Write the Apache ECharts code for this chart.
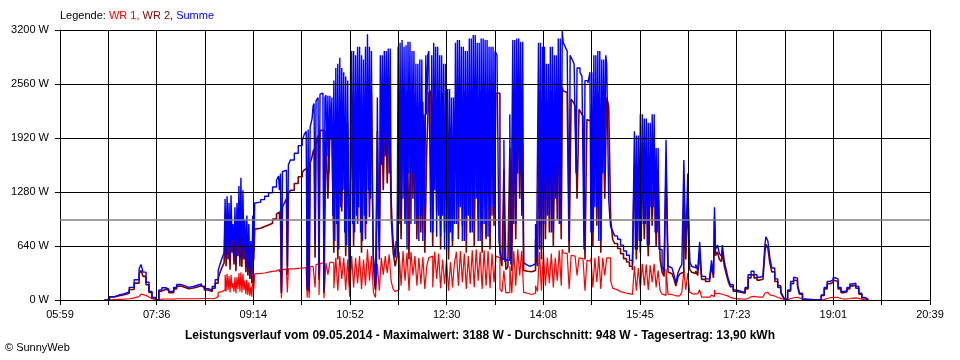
<!DOCTYPE html>
<html><head><meta charset="utf-8">
<script src="https://cdn.jsdelivr.net/npm/echarts@6/dist/echarts.min.js"></script>
<style>html,body{margin:0;padding:0;background:#fff}#c{width:960px;height:360px}</style>
</head><body><div id="c"></div>
<script>
// Zeitachse: 05:59 .. 20:39 (Minuten seit Mitternacht)
const T0 = 359, T1 = 1239;
const tickLabels = ['05:59','07:36','09:14','10:52','12:30','14:08','15:45','17:23','19:01','20:39'];
const durchschnitt = 948;

// Zeitpunkte für WR 1 und WR 2
const zeit = [
404,409,414,419,424,429,434,439,441,443,446,449,452,456,459,462,466,469,474,477,481,485,489,494,498,502,505,509,513,516,519,521,523,525,
526,527,528,529,530,531,532,533,534,535,536,537,538,539,540,541,542,543,544,545,546,547,548,549,550,551,552,553,554,555,556,
558,562,566,570,574,578,580,581,582,583,584,586,588,589,590,592,596,600,604,606,608,609,610,611,612,614,615,616,617,618,620,621,622,
624,626,628,630,632,634,636,638,640,642,
644,646,648,650,652,654,656,658,660,662,
664,666,668,670,672,674,676,678,680,682,
684,686,688,690,692,694,696,698,700,702,
704,706,708,710,712,714,716,718,720,722,
724,726,728,730,732,734,736,738,740,742,
744,746,748,750,752,754,756,758,760,762,
764,766,768,770,772,774,776,778,780,782,
784,786,788,790,792,794,796,798,800,802,
804,806,808,810,812,814,816,818,820,822,
824,826,828,830,832,834,836,838,840,842,
844,846,848,850,852,854,856,858,860,862,
864,866,867,868,870,872,874,876,878,880,
882,884,886,888,890,892,894,896,898,900,
902,904,906,908,910,912,914,916,918,920,
923,926,929,932,935,938,940,942,944,946,
948,950,952,954,956,958,960,962,964,966,
968,970,972,974,976,978,980,982,984,986,
988,990,992,994,996,998,1000,1002,1004,1006,
1008,1012,1016,1018,1020,1021,1022,1024,1026,1028,
1029,1031,1033,1035,1037,1040,1043,1046,1049,1052,
1055,1058,1061,1064,1067,1070,1072,1073,1075,1077,
1079,1082,1085,1088,1090,1092,1095,1098,1101,1103,
1105,1107,1110,1113,1126,1129,1132,1135,1138,1141,
1143,1146,1149,1152,1155,1158,1161,1164,1167,1170,
1173,1176
];

const wr2 = [
0,35,50,63,80,125,200,310,350,280,180,90,25,0,105,128,115,88,132,165,150,133,142,155,170,147,118,100,140,200,260,330,390,440,
900,400,920,480,870,360,940,560,700,420,830,340,880,520,1020,400,1030,390,990,480,720,330,760,290,690,250,540,200,750,470,840,
850,870,890,910,960,1020,1040,950,1060,80,1100,1150,1200,300,1260,1300,1380,1460,1510,1540,1560,120,1580,100,1620,1700,1760,1790,500,1850,1950,240,2010,
2010,80,2000,1200,1950,2000,560,2250,480,2350,
1050,2200,520,2100,160,2450,640,2420,900,2480,
560,2400,720,2500,980,2450,400,120,2000,480,
2450,1300,2480,1380,2480,980,560,400,520,2480,
720,2500,950,2480,480,2500,1200,2450,720,2300,
800,2350,560,1800,2450,2480,640,2480,1050,2480,
600,2450,800,2350,480,2050,640,1950,2480,720,
2500,880,2480,560,2450,800,2500,640,2500,960,
2480,560,2500,720,2500,600,2480,880,2450,2450,
560,400,1550,360,390,1800,340,2500,720,2500,
1200,2480,350,340,330,335,340,350,720,400,
2480,480,2480,720,2300,800,2480,640,2450,960,
2500,720,2520,2480,2460,2420,560,2380,2350,2300,
1200,2260,2220,2180,480,2140,2120,2200,640,2400,
880,2450,560,2350,1200,2400,2300,960,720,670,
610,550,490,450,400,355,1600,480,1560,560,
1760,720,1720,520,1680,880,1760,640,1440,480,
330,280,1520,330,315,300,250,165,270,310,
330,1300,480,1180,360,330,315,345,290,560,
245,220,238,410,262,980,525,570,480,455,
570,395,305,218,158,105,96,88,79,132,
262,298,262,236,245,260,570,660,615,440,
333,220,150,88,44,9,105,193,237,228,
158,70,9,0,0,53,132,193,210,237,
220,132,88,96,132,167,175,140,70,26,
9,0
];

const wr1 = [
0,5,8,10,15,25,40,60,70,55,35,15,5,0,10,12,12,10,15,15,15,15,15,15,18,18,18,15,20,40,90,100,110,120,
300,100,310,120,280,90,300,140,200,100,270,80,270,130,320,100,330,90,310,120,230,70,240,60,210,50,160,40,250,130,310,
315,320,330,340,345,355,360,330,360,20,360,365,365,90,368,370,375,378,382,385,388,30,390,25,395,400,410,415,150,420,430,60,435,
440,20,440,300,450,440,140,500,110,520,
250,500,120,480,40,520,150,500,200,520,
130,480,170,600,230,520,90,30,430,110,
500,300,520,320,540,220,130,100,120,570,
170,580,230,560,110,570,290,520,170,500,
190,510,130,400,500,520,150,570,250,550,
140,480,190,480,110,450,150,440,570,170,
580,210,550,130,520,190,590,150,600,230,
570,130,590,170,580,140,550,210,520,500,
130,95,350,85,90,400,80,580,170,600,
290,580,90,80,70,65,70,80,170,100,
570,110,550,170,500,200,550,150,500,230,
590,170,600,560,550,540,130,530,520,510,
290,500,490,480,110,470,460,500,150,500,
210,520,130,500,290,500,500,230,140,120,
100,90,80,75,65,60,400,110,380,130,
430,170,420,120,410,210,430,150,350,110,
70,55,370,70,65,60,50,35,50,70,
90,360,120,320,90,70,65,75,60,120,
35,30,32,60,38,120,75,80,70,65,
80,55,45,32,22,15,14,12,11,18,
38,42,38,34,35,40,80,90,85,60,
47,30,20,12,6,1,15,27,33,32,
22,10,1,0,0,7,18,27,30,33,
30,18,12,14,18,23,25,20,10,4,
1,0
];

// Zeitpunkte für Summe (im wolkigen Abschnitt minutengenau)
const zeitSumme = [
404,409,414,419,424,429,434,439,441,443,446,449,452,456,459,462,466,469,474,477,481,485,489,494,498,502,505,509,513,516,519,521,523,525,
526,527,528,529,530,531,532,533,534,535,536,537,538,539,540,541,542,543,544,545,546,547,548,549,550,551,552,553,554,555,556,
558,562,566,570,574,578,580,581,582,583,584,586,588,589,590,592,596,600,604,606,608,609,610,611,612,614,615,616,617,618,620,621,622,
624,625,626,627,628,629,630,631,632,633,
634,635,636,637,638,639,640,641,642,643,
644,645,646,647,648,649,650,651,652,653,
654,655,656,657,658,659,660,661,662,663,
664,665,666,667,668,669,670,671,672,673,
674,675,676,677,678,679,680,681,682,683,
684,685,686,687,688,689,690,691,692,693,
694,695,696,697,698,699,700,701,702,703,
704,705,706,707,708,709,710,711,712,713,
714,715,716,717,718,719,720,721,722,723,
724,725,726,727,728,729,730,731,732,733,
734,735,736,737,738,739,740,741,742,743,
744,745,746,747,748,749,750,751,752,753,
754,755,756,757,758,759,760,761,762,763,
764,765,766,767,768,769,770,771,772,773,
774,775,776,777,778,779,780,781,782,783,
784,785,786,787,788,789,790,791,792,793,
794,795,796,797,798,799,800,801,802,803,
804,805,806,807,808,809,810,811,812,813,
814,815,816,817,818,819,820,821,822,823,
824,825,826,827,828,829,830,831,832,833,
834,835,836,837,838,839,840,841,842,843,
844,845,846,847,848,849,850,851,852,853,
854,855,856,857,858,859,860,861,862,863,
864,865,866,867,868,869,870,871,872,873,
874,875,876,877,878,879,880,881,882,883,
884,885,886,887,888,889,890,891,892,893,
894,895,896,897,898,899,900,901,902,903,
904,905,906,907,908,909,910,911,912,913,
914,915,916,917,918,919,920,
923,926,929,932,935,938,
940,941,942,943,944,945,946,947,948,949,
950,951,952,953,954,955,956,957,958,959,
960,961,962,963,964,965,966,
968,970,972,974,976,978,980,982,984,986,
988,990,992,994,996,998,1000,1002,1004,1006,
1008,1012,1016,1018,1020,1021,1022,1024,1026,1028,
1029,1031,1033,1035,1037,1040,1043,1046,1049,1052,
1055,1058,1061,1064,1067,1070,1072,1073,1075,1077,
1079,1082,1085,1088,1090,1092,1095,1098,1101,1103,
1105,1107,1110,1113,1126,1129,1132,1135,1138,1141,
1143,1146,1149,1152,1155,1158,1161,1164,1167,1170,
1173,1176
];

const summe = [
0,40,60,75,95,150,240,370,420,330,210,100,30,0,120,145,130,100,150,185,170,150,160,175,190,165,135,115,160,240,350,430,500,560,
1200,500,1230,600,1150,450,1240,700,900,520,1100,420,1150,650,1350,500,1450,480,1300,600,950,400,1000,350,900,300,700,240,1000,600,1150,
1160,1190,1230,1270,1340,1420,1470,1300,1500,100,1520,1540,1560,400,1600,1660,1740,1830,1890,1960,2000,150,2020,120,2050,2150,2300,2330,680,2360,2400,300,2440,
2450,1900,100,2400,2430,1700,2420,1500,2420,1900,
2400,1000,2600,700,2750,900,2800,600,2870,1100,
2750,1300,2700,800,2650,650,2600,900,200,2900,
2950,900,2950,800,2900,1000,3000,1100,3000,800,
2900,700,2850,1000,3000,900,3150,1300,3000,1200,
2950,1200,500,400,150,300,2400,900,600,2900,
1600,2900,1600,2950,1700,2950,1700,2980,1500,2980,
1200,900,700,600,500,700,650,3000,900,3050,
1000,3080,1200,3000,900,3020,600,3060,1500,3060,
900,2950,1500,2950,900,2800,1000,2800,700,2850,
1000,2850,700,2200,1100,2900,2200,2900,2950,2950,
800,2900,800,3050,1300,3000,750,3000,1000,2900,
750,2900,1000,2800,600,2800,1300,2500,600,2500,
800,2400,700,2400,900,3050,900,3080,1100,3080,
1100,3000,700,3000,700,2950,1000,2950,1000,3100,
800,3100,800,3140,1200,3140,1200,3050,700,3050,
700,3100,900,3100,900,3080,750,3080,750,3000,
1100,3000,1000,3000,1100,2950,2950,2900,2900,700,
700,500,500,480,1900,450,450,480,480,470,
2200,420,420,3080,900,3080,900,3100,1500,3100,
1500,3060,1000,3060,440,440,420,420,400,400,
400,400,410,410,430,430,900,500,500,3050,
600,3050,600,3000,900,3000,900,2800,1000,2800,
1000,3000,800,3000,800,2900,1200,2900,1200,3100,
900,3100,900,3188,3050,3050,3000,3000,2950,2950,
700,2900,2900,2850,2850,2800,2800,1500,2750,2750,
2750,2700,2700,2650,2650,600,2600,2600,2600,2570,
2570,2700,800,2700,800,2900,1100,2900,1100,2950,
700,2950,700,2850,1500,2850,1500,2900,2800,2800,
1200,1000,870,850,820,800,760,
720,650,580,530,470,420,
2000,600,1950,600,1950,700,2200,700,2200,900,
2150,900,2150,650,2100,650,2100,1100,2200,1100,
2200,800,1800,800,1800,600,600,
400,330,1900,400,380,360,300,200,320,380,
420,1660,600,1500,450,400,380,420,350,690,
280,250,270,470,300,1100,600,650,550,520,
650,450,350,250,180,120,110,100,90,150,
300,340,300,270,280,300,650,750,700,500,
380,250,170,100,50,10,120,220,270,260,
180,80,10,0,0,60,150,220,240,270,
250,150,100,110,150,190,200,160,80,30,
10,0
];

// x axis in grid steps (18 vertical grid intervals over 05:59..20:39)
const STEPS = 18;
const STEP = (T1 - T0) / STEPS;
function pts(times, vals) { return times.map((t, i) => [(t - T0) / STEP, vals[i]]); }

const FONT = "'Liberation Sans', Arial, sans-serif";
const chart = echarts.init(document.getElementById('c'), null, { renderer: 'canvas' });
chart.setOption({
  animation: false,
  backgroundColor: '#ffffff',
  textStyle: { fontFamily: FONT },
  grid: { left: 60, right: 30, top: 30, bottom: 60 },
  title: [
    {
      left: 60, top: 10, padding: 0,
      text: '{k|Legende: }{a|WR 1, }{b|WR 2, }{c|Summe}',
      textStyle: {
        fontSize: 11, fontWeight: 'normal', fontFamily: FONT,
        rich: {
          k: { color: '#000000', fontSize: 11, fontFamily: FONT },
          a: { color: '#ff0000', fontSize: 11, fontFamily: FONT },
          b: { color: '#800000', fontSize: 11, fontFamily: FONT },
          c: { color: '#0000ff', fontSize: 11, fontFamily: FONT }
        }
      }
    },
    {
      left: 'center', top: 330, padding: 0,
      text: 'Leistungsverlauf vom 09.05.2014 - Maximalwert: 3188 W - Durchschnitt: 948 W - Tagesertrag: 13,90 kWh',
      textStyle: { fontSize: 12, fontWeight: 'bold', color: '#000000', fontFamily: FONT }
    },
    {
      left: 5, top: 342, padding: 0,
      text: '© SunnyWeb',
      textStyle: { fontSize: 11, fontWeight: 'normal', color: '#000000', fontFamily: FONT }
    }
  ],
  xAxis: {
    type: 'value', min: 0, max: STEPS, interval: 1, z: 4,
    axisLine: { show: true, lineStyle: { color: '#000000', width: 1 } },
    axisTick: { show: true, length: 5, lineStyle: { color: '#000000' } },
    splitLine: { show: true, lineStyle: { color: '#000000', width: 1 } },
    axisLabel: {
      show: true, margin: 9, fontSize: 11, color: '#000000', fontFamily: FONT,
      showMinLabel: true, showMaxLabel: true, hideOverlap: false,
      formatter: v => { const k = Math.round(v); return k % 2 === 0 ? tickLabels[k / 2] : ''; }
    }
  },
  yAxis: {
    type: 'value', min: 0, max: 3200, interval: 640, z: 4,
    axisLine: { show: true, lineStyle: { color: '#000000', width: 1 } },
    axisTick: { show: true, length: 5, lineStyle: { color: '#000000' } },
    splitLine: { show: true, lineStyle: { color: '#000000', width: 1 } },
    axisLabel: { margin: 11, fontSize: 11, color: '#000000', fontFamily: FONT, formatter: v => v + ' W' }
  },
  series: [
    {
      name: 'WR 1', type: 'line', step: 'end', data: pts(zeit, wr1), showSymbol: false, symbol: 'none', silent: true, z: 2,
      lineStyle: { color: '#ff0000', width: 1.2 },
      markLine: {
        silent: true, symbol: 'none', z: 5, label: { show: false },
        lineStyle: { color: '#808080', width: 1.5, type: 'solid' },
        data: [{ yAxis: durchschnitt }]
      }
    },
    {
      name: 'WR 2', type: 'line', step: 'end', data: pts(zeit, wr2), showSymbol: false, symbol: 'none', silent: true, z: 2,
      lineStyle: { color: '#800000', width: 1.6 }
    },
    {
      name: 'Summe', type: 'line', step: 'end', data: pts(zeitSumme, summe), showSymbol: false, symbol: 'none', silent: true, z: 2,
      lineStyle: { color: '#0000ff', width: 1.4 }
    }
  ]
});
</script></body></html>
